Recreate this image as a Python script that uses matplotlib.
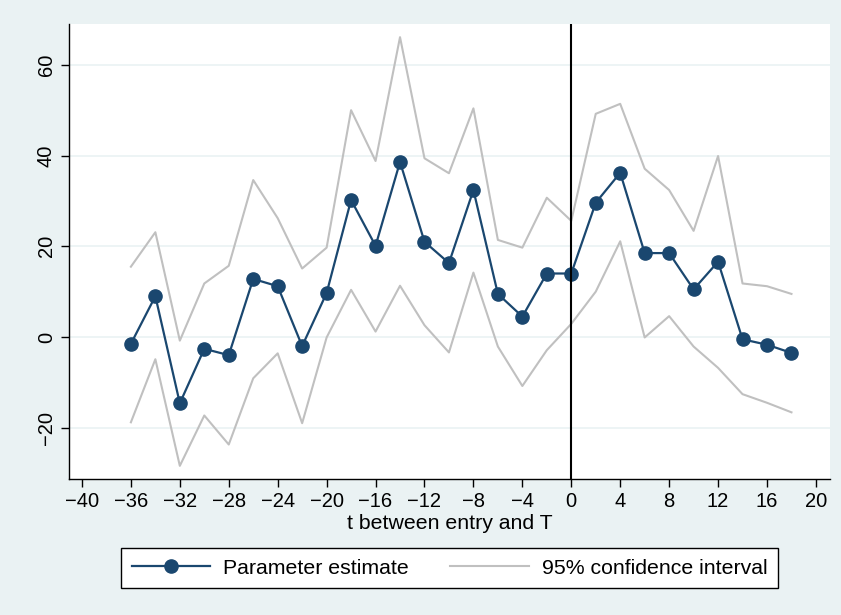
import numpy as np
import matplotlib.pyplot as plt

# event time
t = list(range(-36, 20, 2))

estimate = [-1.5, 9.0, -14.6, -2.6, -4.0, 12.8, 11.2, -2.0, 9.7, 30.2,
            20.1, 38.6, 21.0, 16.3, 32.4, 9.5, 4.5, 14.0, 14.0, 29.6,
            36.2, 18.5, 18.5, 10.5, 16.6, -0.5, -1.7, -3.5]
ci_upper = [15.5, 23.1, -0.8, 11.8, 15.7, 34.6, 26.2, 15.1, 19.7, 50.0,
            38.8, 66.1, 39.4, 36.1, 50.4, 21.4, 19.7, 30.7, 25.6, 49.2,
            51.4, 37.1, 32.4, 23.4, 39.9, 11.8, 11.2, 9.5]
ci_lower = [-18.8, -4.9, -28.4, -17.3, -23.7, -9.1, -3.6, -19.0, -0.1, 10.4,
            1.2, 11.3, 2.6, -3.4, 14.2, -2.1, -10.8, -2.9, 2.9, 10.0,
            21.1, -0.1, 4.6, -2.1, -6.8, -12.6, -14.5, -16.6]

xticks = list(range(-40, 21, 4))
yticks = [-20, 0, 20, 40, 60]

bg = '#eaf2f3'
navy = '#1a476f'
grey = '#c0c0c0'

plt.rcParams['font.family'] = ['Liberation Sans', 'DejaVu Sans']

fig = plt.figure(figsize=(8.41, 6.15), dpi=100, facecolor=bg)
ax = fig.add_axes([69 / 841, 1 - 479 / 615, (830 - 69) / 841, (479 - 24) / 615])
ax.set_facecolor('white')

ax.plot(t, ci_upper, color=grey, lw=1.5, zorder=2)
ax.plot(t, ci_lower, color=grey, lw=1.5, zorder=2, label='95% confidence interval')
ax.plot(t, estimate, color=navy, lw=1.6, marker='o', ms=9.5, zorder=3,
        label='Parameter estimate')
ax.axvline(0, color='black', lw=1.5, zorder=4)

ax.set_xlim(-41.06, 21.15)
ax.set_ylim(-31.3, 69.0)
ax.set_xticks(xticks)
ax.set_xticklabels([str(v).replace('-', '\u2212') for v in xticks])
ax.set_yticks(yticks)
ax.set_yticklabels([str(v).replace('-', '\u2212') for v in yticks],
                   rotation=90, va='center')
ax.grid(axis='y', color=bg, lw=1.2, zorder=0)
ax.set_axisbelow(True)

for s in ['top', 'right']:
    ax.spines[s].set_visible(False)
for s in ['left', 'bottom']:
    ax.spines[s].set_linewidth(1.0)
ax.tick_params(axis='both', direction='out', length=5.5, width=1.0,
               labelsize=14.5, pad=4)

ax.set_xlabel('t between entry and T', fontsize=15.3, labelpad=2)

handles, labels = ax.get_legend_handles_labels()
leg = fig.legend(handles[::-1], labels[::-1], loc='center',
                 bbox_to_anchor=(449.5 / 841, 1 - 568 / 615), ncol=2,
                 fontsize=15.3, frameon=True, fancybox=False, edgecolor='black',
                 framealpha=1, handlelength=3.7, columnspacing=1.95,
                 borderpad=0.5, handletextpad=0.6)
leg.get_frame().set_linewidth(1.0)

fig.savefig('out.png', dpi=100, facecolor=bg)
